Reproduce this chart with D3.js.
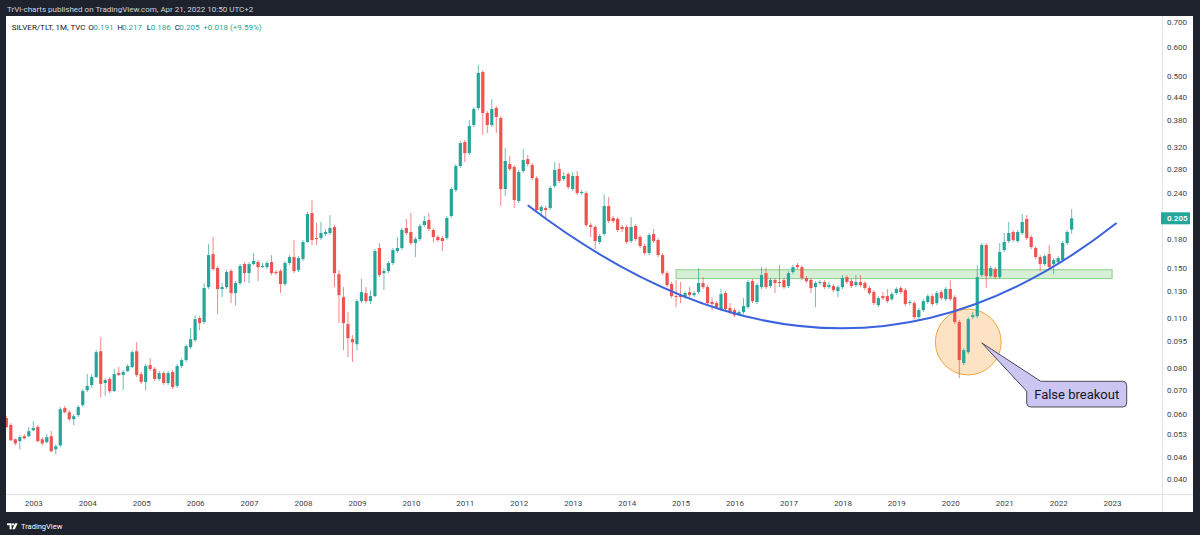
<!DOCTYPE html>
<html>
<head>
<meta charset="utf-8">
<script src="https://cdn.jsdelivr.net/npm/d3@7"></script>
<style>
  body { margin: 0; background: #1e222d; }
  svg { display: block; font-family: Roboto, "Noto Sans", sans-serif; }
</style>
</head>
<body>
<svg id="chart" width="1200" height="535"></svg>
<script>
// SILVER/TLT monthly candles, first one is Jul 2002
const startYear = 2002, startMonth = 6;

const opens = [
  .0586, .0561, .0513, .0507, .0523, .0523,
  .0543, .0554, .0513, .0504, .0523, .0482, .0494, .0624, .0608, .0582, .0597, .0636,
  .0698, .0721, .0758, .0891, .0730, .0749, .0694, .0777, .0768, .0787, .0807, .0891,
  .0772, .0735, .0817, .0797, .0749, .0777, .0730, .0782, .0717, .0812, .0843, .0914,
  .0955, .1097, .1070, .1332, .1638, .1501, .1316, .1332, .1473, .1283, .1366, .1539,
  .1454, .1539, .1558, .1510, .1510, .1558, .1464, .1473, .1358, .1549, .1608, .1482,
  .1588, .1767, .2119, .1812, .1812, .1858, .1870, .1941, .1445, .1251, .1056, .0961,
  .0931, .1220, .1283, .1220, .1259, .1702, .1454, .1473, .1549, .1670, .1702, .1929,
  .1881, .1756, .1800, .1965, .2028, .1905, .1823, .1812, .1812, .2079, .2447, .2845,
  .3306, .3086, .3679, .4093, .5129, .3967, .3679, .4093, .3844, .2463, .2881, .2827,
  .2285, .2757, .2972, .2863, .2638, .2146, .2187, .2187, .2510, .2792, .2622, .2705,
  .2463, .2672, .2401, .2401, .1965, .1941, .1767, .1858, .2214, .2054, .2041, .1941,
  .1941, .1778, .1953, .1823, .1723, .1649, .1858, .1789, .1628, .1454, .1358, .1259,
  .1267, .1259, .1291, .1267, .1291, .1366, .1332, .1213, .1205, .1161, .1283, .1168,
  .1153, .1124, .1139, .1175, .1383, .1213, .1332, .1454, .1341, .1392, .1375, .1392,
  .1341, .1464, .1529, .1510, .1410, .1392, .1332, .1366, .1375, .1332, .1341, .1299,
  .1332, .1418, .1383, .1349, .1375, .1366, .1324, .1291, .1190, .1259, .1259, .1235,
  .1283, .1324, .1307, .1205, .1205, .1104, .1153, .1213, .1259, .1205, .1291, .1235,
  .1316, .1251, .1070, .0827, .0886, .1104, .1110, .1436, .1734, .1427, .1491, .1418,
  .1680, .1778, .1881, .1778, .1870, .2041, .1823, .1702, .1608, .1539, .1638, .1539,
  .1558, .1578, .1756, .191
];
const highs = [
  .0593, .0568, .0516, .0526, .0530, .0554,
  .0575, .0561, .0520, .0530, .0540, .0497, .0628, .0632, .0616, .0601, .0636, .0703,
  .0772, .0772, .0897, .0974, .0753, .0758, .0797, .0807, .0792, .0822, .0897, .0943,
  .0782, .0822, .0853, .0807, .0787, .0787, .0787, .0792, .0822, .0853, .0931, .1030,
  .1117, .1110, .1366, .1745, .1823, .1520, .1366, .1482, .1491, .1383, .1539, .1558,
  .1558, .1649, .1578, .1549, .1568, .1628, .1482, .1491, .1568, .1628, .1789, .1618,
  .1789, .2132, .2299, .1990, .2003, .1917, .2092, .1965, .1482, .1332, .1139, .0986,
  .1235, .1401, .1332, .1307, .1691, .1756, .1501, .1568, .1702, .1823, .1929, .2041,
  .2119, .1823, .1978, .2079, .2119, .1929, .1846, .1835, .2079, .2494, .2881, .3327,
  .3348, .3796, .4118, .5359, .5194, .4017, .4331, .4144, .3893, .3184, .3029, .2863,
  .2774, .3164, .3048, .2899, .2672, .2228, .2214, .2510, .2917, .2899, .2739, .2739,
  .2739, .2757, .2447, .2432, .1990, .1965, .1858, .2386, .2342, .2079, .2066, .1965,
  .1965, .2066, .1978, .1846, .1745, .1870, .1917, .1812, .1649, .1473, .1375, .1392,
  .1375, .1299, .1332, .1299, .1501, .1418, .1349, .1251, .1220, .1316, .1299, .1205,
  .1168, .1153, .1243, .1392, .1401, .1366, .1510, .1501, .1410, .1410, .1529, .1410,
  .1473, .1529, .1549, .1529, .1427, .1410, .1383, .1392, .1392, .1375, .1358, .1349,
  .1436, .1436, .1401, .1436, .1436, .1383, .1341, .1307, .1259, .1291, .1316, .1291,
  .1332, .1341, .1324, .1228, .1220, .1168, .1235, .1275, .1275, .1299, .1307, .1332,
  .1392, .1267, .1083, .0908, .1104, .1139, .1529, .1756, .1756, .1520, .1510, .1756,
  .1870, .2003, .1905, .1905, .2106, .2092, .1846, .1723, .1628, .1638, .1734, .1598,
  .1618, .1778, .1905, .217
];
const lows = [
  .0551, .0507, .0494, .0482, .0513, .0520,
  .0540, .0504, .0494, .0500, .0473, .0467, .0488, .0604, .0575, .0561, .0590, .0628,
  .0690, .0708, .0753, .0668, .0673, .0685, .0690, .0763, .0698, .0782, .0802, .0758,
  .0726, .0698, .0787, .0739, .0739, .0721, .0721, .0703, .0708, .0802, .0833, .0903,
  .0943, .1017, .1056, .1316, .1473, .1124, .1251, .1316, .1205, .1190, .1349, .1375,
  .1366, .1529, .1383, .1501, .1491, .1436, .1436, .1283, .1341, .1529, .1454, .1464,
  .1568, .1756, .1734, .1734, .1789, .1835, .1846, .1332, .1063, .0897, .0858, .0833,
  .0897, .1205, .1205, .1198, .1251, .1418, .1307, .1454, .1529, .1649, .1680, .1846,
  .1734, .1608, .1778, .1941, .1893, .1767, .1767, .1670, .1789, .2054, .2417, .2810,
  .2917, .3048, .3633, .4042, .3455, .3499, .3633, .3499, .2214, .2357, .2757, .2187,
  .2256, .2722, .2845, .2606, .2132, .2092, .2054, .2159, .2479, .2557, .2590, .2463,
  .2432, .2371, .2371, .1941, .1823, .1691, .1745, .1835, .1990, .1990, .1881, .1881,
  .1745, .1756, .1778, .1702, .1628, .1628, .1756, .1608, .1436, .1332, .1243, .1175,
  .1205, .1235, .1251, .1251, .1275, .1316, .1190, .1153, .1161, .1146, .1146, .1124,
  .1104, .1110, .1124, .1161, .1205, .1198, .1316, .1316, .1324, .1283, .1332, .1316,
  .1324, .1445, .1491, .1392, .1366, .1283, .1175, .1349, .1316, .1316, .1291, .1251,
  .1316, .1358, .1324, .1332, .1332, .1307, .1267, .1190, .1175, .1228, .1205, .1220,
  .1267, .1275, .1183, .1190, .1090, .1090, .1139, .1198, .1183, .1190, .1228, .1220,
  .1220, .1056, .0753, .0817, .0875, .1090, .1097, .1418, .1324, .1410, .1401, .1401,
  .1659, .1756, .1767, .1756, .1846, .1789, .1691, .1588, .1473, .1520, .1491, .1445,
  .1539, .1558, .1734, .186
];
const closes = [
  .0554, .0510, .0500, .0520, .0516, .0540,
  .0551, .0507, .0500, .0520, .0476, .0491, .0620, .0608, .0582, .0593, .0628, .0694,
  .0717, .0758, .0886, .0726, .0744, .0694, .0772, .0768, .0782, .0812, .0886, .0768,
  .0735, .0812, .0797, .0749, .0777, .0730, .0777, .0712, .0812, .0843, .0920, .0961,
  .1090, .1063, .1324, .1628, .1491, .1316, .1332, .1464, .1283, .1366, .1520, .1454,
  .1539, .1568, .1510, .1520, .1549, .1454, .1454, .1358, .1549, .1608, .1473, .1598,
  .1767, .2106, .1789, .1800, .1870, .1881, .1929, .1454, .1267, .1063, .0967, .0943,
  .1220, .1291, .1220, .1259, .1670, .1436, .1473, .1549, .1680, .1702, .1905, .1870,
  .1756, .1800, .1953, .2015, .1917, .1823, .1789, .1778, .2054, .2463, .2845, .3286,
  .3086, .3656, .4067, .5097, .3967, .3679, .4067, .3869, .2463, .2936, .2792, .2299,
  .2739, .2954, .2881, .2638, .2159, .2200, .2159, .2479, .2774, .2590, .2672, .2494,
  .2672, .2401, .2417, .1965, .1941, .1778, .1835, .2214, .2015, .2015, .1905, .1917,
  .1767, .1941, .1800, .1723, .1649, .1846, .1778, .1628, .1454, .1349, .1259, .1251,
  .1251, .1283, .1267, .1283, .1366, .1332, .1205, .1198, .1175, .1275, .1161, .1139,
  .1117, .1139, .1183, .1375, .1220, .1349, .1436, .1332, .1392, .1366, .1366, .1332,
  .1454, .1510, .1510, .1410, .1383, .1324, .1366, .1375, .1332, .1349, .1307, .1332,
  .1410, .1375, .1341, .1375, .1349, .1324, .1283, .1205, .1243, .1243, .1220, .1275,
  .1316, .1291, .1198, .1213, .1104, .1153, .1220, .1259, .1198, .1283, .1243, .1316,
  .1235, .1070, .0843, .0897, .1090, .1117, .1418, .1734, .1427, .1501, .1418, .1659,
  .1767, .1870, .1789, .1881, .2003, .1812, .1712, .1608, .1539, .1618, .1510, .1578,
  .1598, .1756, .1881, .205
];

const yearLabels = d3.range(2003, 2024);
const priceTicks = [0.7, 0.6, 0.5, 0.44, 0.38, 0.32, 0.28, 0.24, 0.18, 0.15, 0.13, 0.11, 0.095, 0.08, 0.07, 0.06, 0.053, 0.046, 0.04];

// drawings on the chart (month of time, price)
const monthNo = (yr, m) => yr * 12 + m;
const arcPoints = [
  { t: monthNo(2012, 2), p: 0.2224 },
  { t: monthNo(2017, 11), p: 0.0504 },
  { t: monthNo(2023, 1), p: 0.199 }
];
const zone = { t0: monthNo(2014, 11), t1: monthNo(2023, 0), p0: 0.1485, p1: 0.1405 };
const ring = { t: monthNo(2020, 4), p: 0.0944, rimP: 0.0768 };
const callout = { text: 'False breakout', tipT: monthNo(2020, 7), tipP: 0.0939, boxT: monthNo(2021, 5), boxP: 0.0738 };

const up = '#26a69a', down = '#ef5350';
const svg = d3.select('#chart');

const x = d3.scaleLinear()
  .domain([monthNo(2003, 0), monthNo(2023, 0)])
  .range([33.3, 1112.1]);
const y = d3.scaleLog()
  .domain([0.04, 0.7])
  .range([479, 22.4]);

// panel
svg.append('rect').attr('x', 6).attr('y', 16).attr('width', 1187).attr('height', 496).attr('fill', '#ffffff');
svg.append('line').attr('x1', 1162.5).attr('x2', 1162.5).attr('y1', 16).attr('y2', 512).attr('stroke', '#e0e3eb');
svg.append('line').attr('x1', 6).attr('x2', 1193).attr('y1', 494.5).attr('y2', 494.5).attr('stroke', '#e0e3eb');

svg.append('defs').append('clipPath').attr('id', 'pane')
  .append('rect').attr('x', 6).attr('y', 16).attr('width', 1156).attr('height', 478);

const plot = svg.append('g').attr('clip-path', 'url(#pane)');

const candles = closes.map((c, i) => ({
  t: monthNo(startYear, startMonth) + i,
  o: opens[i], h: highs[i], l: lows[i], c
}));

// zone
plot.append('rect')
  .attr('x', x(zone.t0))
  .attr('y', y(zone.p0))
  .attr('width', x(zone.t1) - x(zone.t0))
  .attr('height', y(zone.p1) - y(zone.p0))
  .attr('fill', '#d7efd5')
  .attr('stroke', '#8ccf88');

// circle (under the candles so they stay visible)
plot.append('circle')
  .attr('cx', x(ring.t)).attr('cy', y(ring.p))
  .attr('r', y(ring.rimP) - y(ring.p))
  .attr('fill', '#fde3c3')
  .attr('stroke', '#f5a742');

// candles
const cg = plot.append('g').selectAll('g').data(candles).enter().append('g');
cg.append('line')
  .attr('x1', d => x(d.t)).attr('x2', d => x(d.t))
  .attr('y1', d => y(d.h)).attr('y2', d => y(d.l))
  .attr('stroke', d => d.c >= d.o ? up : down)
  .attr('stroke-opacity', 0.7);
cg.append('rect')
  .attr('x', d => x(d.t) - 1.6)
  .attr('width', 3.2)
  .attr('y', d => y(Math.max(d.o, d.c)))
  .attr('height', d => Math.max(1, Math.abs(y(d.o) - y(d.c))))
  .attr('fill', d => d.c >= d.o ? up : down);

// curve
const [a0, a1, a2] = arcPoints;
plot.append('path')
  .attr('d', `M${x(a0.t)},${y(a0.p)}Q${x(a1.t)},${y(a1.p)} ${x(a2.t)},${y(a2.p)}`)
  .attr('fill', 'none')
  .attr('stroke', '#3b63df')
  .attr('stroke-width', 2);

// callout
const bx = x(callout.boxT), by = y(callout.boxP), bw = 100, bh = 25.7, r = 4;
const tx = x(callout.tipT), ty = y(callout.tipP);
plot.append('path')
  .attr('d', `M${bx + 14},${by} H${bx + bw - r} Q${bx + bw},${by} ${bx + bw},${by + r}
    V${by + bh - r} Q${bx + bw},${by + bh} ${bx + bw - r},${by + bh}
    H${bx + r} Q${bx},${by + bh} ${bx},${by + bh - r} V${by + 10} L${tx},${ty} Z`)
  .attr('fill', '#cbc5f1')
  .attr('stroke', '#4a4a55');
plot.append('text')
  .attr('x', bx + bw / 2).attr('y', by + bh / 2)
  .attr('dy', '0.35em')
  .attr('text-anchor', 'middle')
  .attr('font-size', 13)
  .attr('fill', '#131722')
  .text(callout.text);

// price axis
const yAxis = svg.append('g')
  .attr('transform', 'translate(1162,0)')
  .call(d3.axisRight(y).tickValues(priceTicks).tickFormat(d3.format('.3f')).tickSize(0).tickPadding(5));
yAxis.select('.domain').remove();
yAxis.selectAll('text').attr('font-size', 8).attr('fill', '#3b3f4a').attr('font-family', 'Roboto, sans-serif');

const last = candles[candles.length - 1];
svg.append('rect')
  .attr('x', 1161).attr('y', y(last.c) - 6)
  .attr('width', 29).attr('height', 12)
  .attr('fill', up);
svg.append('text')
  .attr('x', 1167).attr('y', y(last.c))
  .attr('dy', '0.35em')
  .attr('font-size', 8)
  .attr('font-weight', 600)
  .attr('fill', '#ffffff')
  .text(d3.format('.3f')(last.c));

// time axis
const xAxis = svg.append('g')
  .attr('transform', 'translate(0,494)')
  .call(d3.axisBottom(x).tickValues(yearLabels.map(yr => monthNo(yr, 0))).tickFormat(d => Math.floor(d / 12)).tickSize(0).tickPadding(6));
xAxis.select('.domain').remove();
xAxis.selectAll('text').attr('font-size', 8).attr('fill', '#3b3f4a').attr('font-family', 'Roboto, sans-serif');

// header and legend
svg.append('text')
  .attr('x', 7).attr('y', 12.3)
  .attr('font-size', 8)
  .attr('fill', '#d1d4dc')
  .text('TrVi-charts published on TradingView.com, Apr 21, 2022 10:50 UTC+2');

const legend = svg.append('text').attr('y', 29.5).attr('font-size', 8);
const parts = [
  ['SILVER/TLT, 1M, TVC', 11.7, '#131722'],
  ['O', 88.3, '#131722'], [d3.format('.3f')(last.o), 93.3, up],
  ['H', 117.3, '#131722'], [d3.format('.3f')(last.h), 122, up],
  ['L', 146.7, '#131722'], [d3.format('.3f')(last.l), 150.7, up],
  ['C', 174.7, '#131722'], [d3.format('.3f')(last.c), 179.3, up],
  ['+0.018', 203.3, up], ['(+9.59%)', 230, up]
];
legend.selectAll('tspan').data(parts).enter().append('tspan')
  .attr('x', d => d[1]).attr('fill', d => d[2]).text(d => d[0]);

// footer logo
const logo = svg.append('g').attr('fill', '#ffffff');
logo.append('path').attr('d', 'M7,523.3h4.6v6h-2v-4.1h-2.6z');
logo.append('circle').attr('cx', 13).attr('cy', 524.4).attr('r', 1.1);
logo.append('path').attr('d', 'M15,523.3h2.7l-2.9,6h-2.5z');
svg.append('text')
  .attr('x', 21).attr('y', 529)
  .attr('font-size', 7.5)
  .attr('fill', '#ffffff')
  .text('TradingView');
</script>
</body>
</html>
